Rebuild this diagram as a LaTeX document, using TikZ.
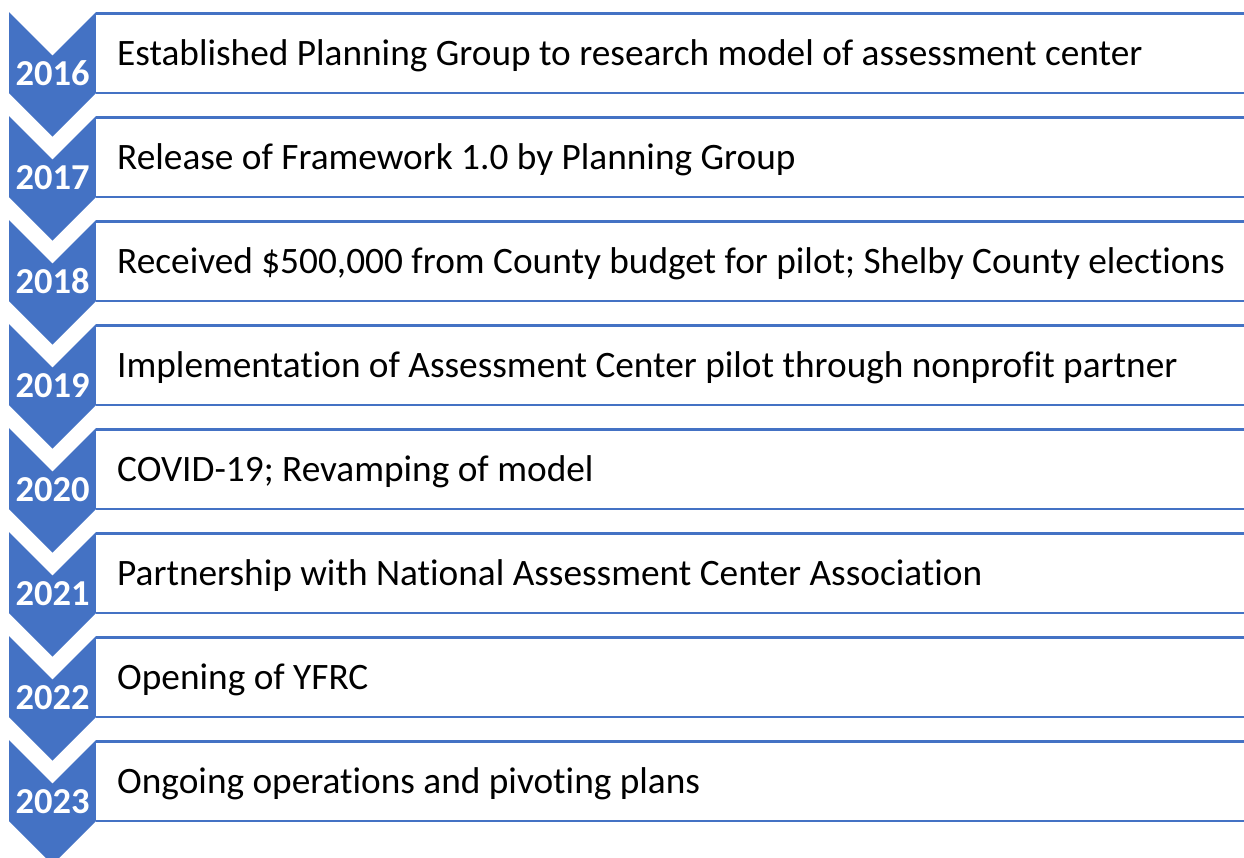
\documentclass[tikz,border=0pt]{standalone}
\usepackage{fontspec}
\setmainfont{Carlito}[Ligatures=CommonOff]
\usepackage{tikz}
\usetikzlibrary{positioning}
\definecolor{tlblue}{RGB}{68,114,196}
\tikzset{
  chevshape/.style={fill=tlblue,draw=none},
  itembox/.style={rectangle,fill=white,draw=none,minimum width=1148pt,minimum height=79pt,inner sep=0pt,anchor=north west},
  boxline/.style={draw=tlblue,line width=2.2pt},
  yearlabel/.style={text=white,font=\fontsize{36.5}{40}\selectfont\bfseries,anchor=base,inner sep=0pt},
  itemlabel/.style={text=black,font=\fontsize{37.3}{40}\selectfont,anchor=base west,inner sep=0pt}
}
\begin{document}
\begin{tikzpicture}[x=1pt,y=-1pt]
  \useasboundingbox (0,0) rectangle (1244,857);
  \clip (0,0) rectangle (1244,857);
  \foreach \yr/\txt [count=\i from 0] in {
      2016/{Established Planning Group to research model of assessment center},
      2017/{Release of Framework 1.0 by Planning Group},
      2018/{Received \$500,000 from County budget for pilot; Shelby County elections},
      2019/{Implementation of Assessment Center pilot through nonprofit partner},
      2020/{COVID-19; Revamping of model},
      2021/{Partnership with National Assessment Center Association},
      2022/{Opening of YFRC},
      2023/{Ongoing operations and pivoting plans}}{
    \pgfmathsetmacro{\t}{12+104*\i}
    % chevron on the left
    \fill[chevshape] (9,\t) -- (52.5,\t+43.5) -- (96,\t) -- (96,\t+81)
      -- (52.5,\t+124.5) -- (9,\t+81) -- cycle;
    % white box with top and bottom rules
    \node[itembox] (box\i) at (96,\t+1.5) {};
    \draw[boxline] (box\i.north west) -- (box\i.north east);
    \draw[boxline] (box\i.south west) -- (box\i.south east);
    \node[yearlabel] (year\i) at (52.5,\t+73) {\yr};
    \node[itemlabel] (item\i) at (117,\t+53) {\txt};
  }
\end{tikzpicture}
\end{document}
